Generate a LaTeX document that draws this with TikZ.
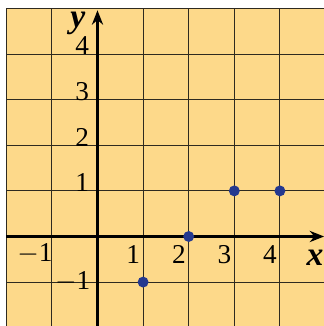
\documentclass[tikz,border=0pt]{standalone}
\usepackage{fontspec}
\setmainfont{Liberation Serif}
\usetikzlibrary{arrows.meta}
\definecolor{paper}{HTML}{FDD98A}
\definecolor{gridc}{HTML}{2E2A20}
\definecolor{dotc}{HTML}{24388F}
\tikzset{
  gridline/.style={draw=gridc, line width=0.7pt},
  axis/.style={draw=black, line width=1.4pt, -{Stealth[length=9pt,width=7pt]}},
  pt/.style={circle, fill=dotc, inner sep=0pt, minimum size=0.24cm},
  num/.style={font=\fontsize{17}{17}\selectfont, inner sep=0pt},
  axlab/.style={font=\fontsize{21}{21}\selectfont\bfseries\itshape, inner sep=0pt}
}
\begin{document}
\begin{tikzpicture}
\useasboundingbox (-2.138,-1.963) rectangle (4.967,5.186);
\fill[paper] (-2,-2.1) rectangle (5.1,5);
\foreach \x in {-2,-1,1,2,3,4} \draw[gridline] (\x,-2.1) -- (\x,5);
\foreach \y in {-1,1,2,3,4,5} \draw[gridline] (-2,\y) -- (5.1,\y);
\coordinate (xs) at (-2,0);
\coordinate (xe) at (4.97,0);
\coordinate (ys) at (0,-2.1);
\coordinate (ye) at (0,4.96);
\draw[axis] (xs) -- (xe);
\draw[axis] (ys) -- (ye);
\node[axlab] (ylab) at (-0.43,4.68) {y};
\node[axlab] (xlab) at (4.77,-0.47) {x};
\node[num, anchor=east] (xm1) at (-0.98,-0.38) {$-$1};
\foreach \x in {1,2,3,4} \node[num, anchor=east] (x\x) at (\x-0.06,-0.4) {\x};
\foreach \y in {1,2,3,4} \node[num, anchor=east] (y\y) at (-0.18,\y+0.18) {\y};
\node[num, anchor=east] (ym1) at (-0.15,-0.98) {$-$1};
\node[pt] (p1) at (1,-1) {};
\node[pt] (p2) at (2,0) {};
\node[pt] (p3) at (3,1) {};
\node[pt] (p4) at (4,1) {};
\end{tikzpicture}
\end{document}
